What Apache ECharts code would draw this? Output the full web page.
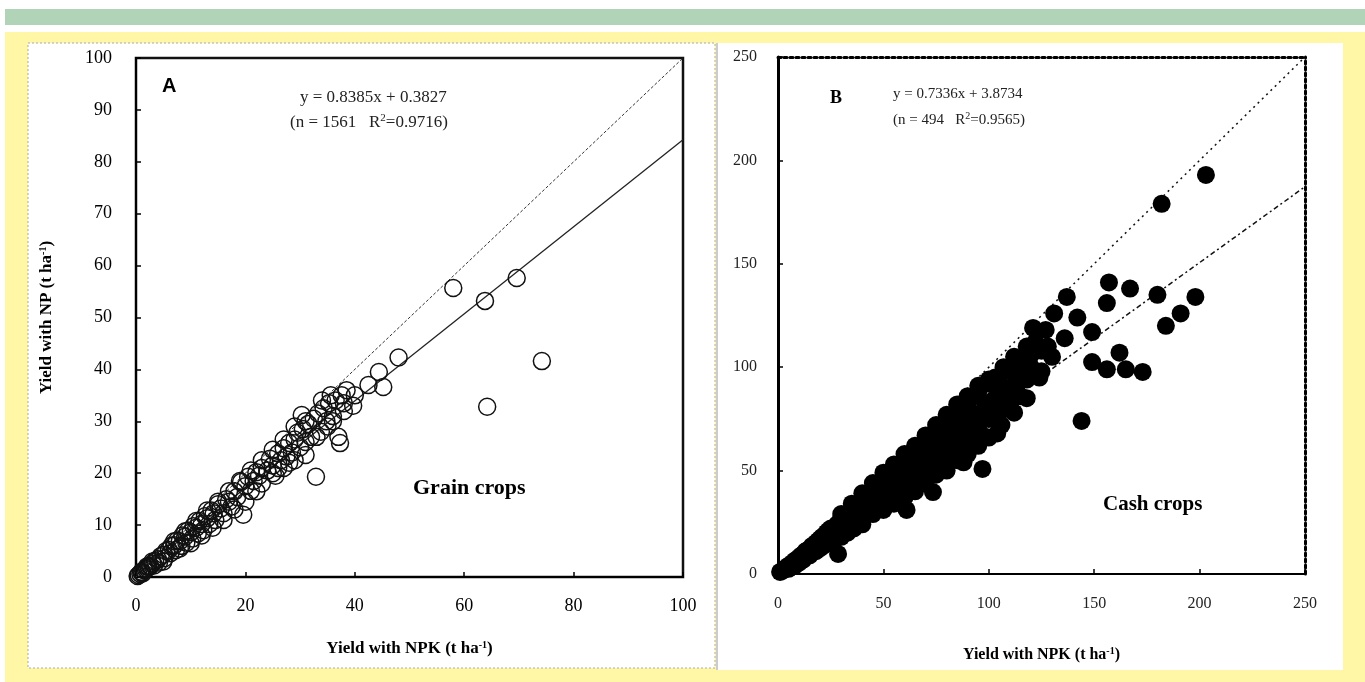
<!DOCTYPE html>
<html><head><meta charset="utf-8">
<script src="https://cdn.jsdelivr.net/npm/echarts@6/dist/echarts.min.js"></script>
<style>html,body{margin:0;padding:0;background:#fff;}#c{width:1365px;height:682px;}</style>
</head><body><div id="c"></div>
<script>
// ---- data ----
const ticksA = [0, 20, 40, 60, 80, 100];
const ticksB = [0, 50, 100, 150, 200, 250];
const grainPoints = [
[0.3,0.2],[0.5,0.4],[0.8,0.6],[1,0.9],[1.2,0.7],[1.5,1.3],[1.8,1.5],[2,1.7],[2.3,2],[2.6,2.1],[3,2.6],[3.3,2.2],[3.5,3.1],[4,3.4],[4.2,2.8],[4.5,4],[5,4.3],[5.2,3.6],[5.5,5],[6,5.2],[6.3,4.6],[6.5,6],[7,6.1],[7.3,5.2],[7.5,7],[8,6.9],[8.3,6],[8.5,8],[9,7.8],[9.2,6.6],[9.5,8.9],[10,8.6],[10.3,7.4],[10.5,9.8],[11,9.5],[11.3,8.4],[11.6,10.8],[12,10.2],[12.3,9],[12.6,11.7],[13,11.3],[13.4,10.2],[13.8,12.8],[14.2,12.3],[14.5,11],[15,14],[15.5,13.2],[16,12.3],[16.5,15],[17,14.5],[17.5,13.6],[18,16.5],[18.5,15.4],[19.2,18.3],[19.6,12],[20,17.5],[20.5,19.3],[21,16.6],[21.5,18.5],[22,20.2],[22.5,19.5],[23,21],[24,20.5],[24.5,22.8],[25,21.5],[25.5,19.5],[26,23.8],[26.5,22.5],[27,24.8],[27.5,23.2],[28,25.8],[28.5,24],[29,26.5],[29.5,27.8],[30,25],[30.3,31.2],[30.5,28.5],[31,23.5],[31.5,29.5],[32,27],[32.5,30.5],[32.9,19.3],[33.3,31.5],[33.8,28],[34.3,32.5],[34.8,30],[35.3,33.5],[35.6,35],[36,31],[36.5,34],[37,27],[37.3,25.8],[37.6,35],[38,33.5],[39.7,33],[40,35],[42.5,37],[44.4,39.5],[45.2,36.6],[48,42.3],[58,55.7],[63.8,53.2],[64.2,32.8],[69.6,57.6],[74.2,41.6],
[5,3],[8,5.5],[10,6.5],[12,8],[14,9.5],[16,11],[18,13],[20,14.5],[22,16.5],[23,18],[25,20],[27,21],[29,22.5],[31,26],[33,27],[35,29],[36,30],[38,32],[34,34],[31,30],[29,29],[27,26.5],[25,24.5],[23,22.5],[21,20.5],[19,18.5],[17,16.5],[15,14.5],[13,12.8],[11,10.8],[9,8.8],[7,6.9],[3,3],[2,2],[1,1],[38.5,36],[26,21],[28,22]
];
const cashPoints = [
[1,1],[2,1.5],[3,2.5],[4,3],[5,4],[6,4.5],[7,5.5],[8,6.5],[9,7],[10,8],[11,9],[12,9.5],[13,11],[14,11.5],[15,12],[16,13.5],[17,14],[18,15],[19,16],[20,17],[21,18],[22,18.5],[23,20],[24,21],[25,22],
[5,2.5],[8,4],[12,7],[18,11],[22,14],[26,15],[30,18],[33,20],[36,22],[40,24],
[10,5.5],[15,9],[20,12.5],[25,17],[28.5,9.7],[28,24],[30,21],[30,27],[32,25],[33,29],[35,30],[35,24],[37,33],[38,28],[40,28],[40,36],[42,34],[43,38],[45,40],[45,32],[47,37],[48,43],[50,45],[50,35],[52,40],[53,47],[55,48],[55,38],[57,43],[58,51],[60,53],[60,42],[61,31],[62,48],[63,56],[65,57],[65,45],[67,52],[68,60],[70,62],[70,50],[72,56],[73,65],[73.5,39.6],[75,67],[75,53],[77,60],[78,70],[80,72],[80,58],[82,64],[83,75],[85,76],[85,62],[87,70],[88,54],[88,80],[90,82],[90,66],[92,74],[93,86],[95,88],[95,70],[97,50.8],[97,67],[98,80],[100,92],[100,75],[102,84],[105,92],[105,78],[108,88],[110,98],[110,82],[113,90],[115,102],[115,86],[118,94],[120,106],[121,119],[125,98],[127,118],[131,126],[136,114],[137,134],[142,124],[144,74],[149,117],[149,102.5],[156,131],[156,99],[157,141],[162,107],[165,99],[167,138],[173,97.7],[180,135],[182,179],[184,120],[191,126],[198,134],[203,193],
[30,29],[35,34],[40,39],[45,44],[50,49],[55,53],[60,58],[65,62],[70,67],[75,72],[80,77],[85,82],[90,86],[95,91],[100,94],
[35,28],[45,36],[55,44],[60,47],[65,51],[75,60],[80,65],[85,69],[90,73],[95,77],[100,82],[105,86],[110,90],[115,95],[120,100],
[35,22],[40,26],[45,29],[50,31],[55,34],[60,37],[65,40],[70,44],[75,48],[80,50],[85,55],[90,58],[95,62],[100,66],
[103,95],[107,100],[112,105],[118,110],[122,112],[125,108],[128,110],[130,105],[118,85],[112,78],[106,72],[104,68],[124,95]
];
const lineA11 = [[0,0],[100,100]];
const lineAFit = [[0,0.3827],[100,84.2327]];
const lineB11 = [[0,0],[250,250]];
const lineBFit = [[0,3.8734],[250,187.2734]];

const serif = '"Liberation Serif","DejaVu Serif",serif';
const chart = echarts.init(document.getElementById('c'), null, {renderer:'canvas'});
const supRich = {sup:{fontSize:10, verticalAlign:'top', padding:[0,0,8,0], fontFamily:serif, fontWeight:'bold', color:'#000'}};

function ax(gi, min, max, interval, pos, opts) {
  return Object.assign({
    type:'value', gridIndex:gi, min:min, max:max, interval:interval, position:pos,
    axisLine:{show:true, onZero:false, lineStyle:{color:'#000', width:2}},
    axisTick:{show:true, inside:true, length:5, lineStyle:{color:'#000', width:1.5}},
    splitLine:{show:false},
    axisLabel:{color:'#000', fontFamily:serif, fontSize:18, margin:20}
  }, opts || {});
}

const option = {
  animation:false,
  backgroundColor:'#fff',
  graphic:[
    {type:'rect', shape:{x:5,y:9,width:1360,height:16}, style:{fill:'#B1D3B8'}, z:-10},
    {type:'rect', shape:{x:5,y:32,width:1360,height:650}, style:{fill:'#FFF6A6'}, z:-10},
    {type:'rect', shape:{x:28,y:43,width:687,height:625}, style:{fill:'#fff', stroke:'#aaa', lineWidth:1, lineDash:[2,2]}, z:-9},
    {type:'rect', shape:{x:716,y:43,width:627,height:627}, style:{fill:'#fff'}, z:-9},
    {type:'rect', shape:{x:716,y:43,width:2,height:627}, style:{fill:'#ccc'}, z:-8},
    {type:'text', left:162, top:76, style:{text:'A', font:'bold 20px "Liberation Sans", Arial, sans-serif', fill:'#000'}},
    {type:'text', left:300, top:89, style:{text:'y = 0.8385x + 0.3827', font:'17px '+serif, fill:'#222'}},
    {type:'text', left:290, top:113, style:{text:'(n = 1561   R{s|2}=0.9716)', font:'17px '+serif, fill:'#222',
       rich:{s:{fontSize:11, verticalAlign:'top', padding:[0,0,9,0], fontFamily:serif, fill:'#222'}}}},
    {type:'text', left:413, top:477, style:{text:'Grain crops', font:'bold 22px '+serif, fill:'#000'}},
    {type:'text', left:830, top:89, style:{text:'B', font:'bold 18px '+serif, fill:'#000'}},
    {type:'text', left:893, top:87, style:{text:'y = 0.7336x + 3.8734', font:'15px '+serif, fill:'#222'}},
    {type:'text', left:893, top:111, style:{text:'(n = 494   R{s|2}=0.9565)', font:'15px '+serif, fill:'#222',
       rich:{s:{fontSize:10, verticalAlign:'top', padding:[0,0,8,0], fontFamily:serif, fill:'#222'}}}},
    {type:'text', left:1103, top:494, style:{text:'Cash crops', font:'bold 21px '+serif, fill:'#000'}}
  ],
  grid:[
    {left:136, top:58, width:547, height:519, show:true, borderColor:'#111', borderWidth:2.5, backgroundColor:'transparent'},
    {left:778, top:57, width:527, height:517, show:false}
  ],
  xAxis:[
    ax(0,0,100,20,'bottom',{name:'Yield with NPK (t ha{sup|-1})', nameLocation:'middle', nameGap:63,
       nameTextStyle:{fontFamily:serif, fontSize:17, fontWeight:'bold', color:'#000', rich:supRich}}),
    ax(1,0,250,50,'bottom',{name:'Yield with NPK (t ha{sup|-1})', nameLocation:'middle', nameGap:72,
       axisLabel:{color:'#222', fontFamily:serif, fontSize:16, margin:22},
       nameTextStyle:{fontFamily:serif, fontSize:16, fontWeight:'bold', color:'#000', rich:supRich}}),
    ax(1,0,250,50,'top',{axisLine:{show:true,onZero:false,lineStyle:{color:'#000',width:3,type:[3,3]}}, axisTick:{show:false}, axisLabel:{show:false}})
  ],
  yAxis:[
    ax(0,0,100,10,'left',{name:'Yield with NP (t ha{sup|-1})', nameLocation:'middle', nameGap:80, nameRotate:90,
       axisLabel:{color:'#000', fontFamily:serif, fontSize:18, margin:24},
       nameTextStyle:{fontFamily:serif, fontSize:17, fontWeight:'bold', color:'#000', rich:supRich}}),
    ax(1,0,250,50,'left',{axisLine:{show:true,onZero:false,lineStyle:{color:'#000',width:3}},
       axisLabel:{color:'#222', fontFamily:serif, fontSize:16, margin:21}}),
    ax(1,0,250,50,'right',{axisLine:{show:true,onZero:false,lineStyle:{color:'#000',width:3,type:[3,3]}}, axisTick:{show:false}, axisLabel:{show:false}})
  ],
  series:[
    {type:'line', xAxisIndex:0, yAxisIndex:0, data:lineA11, symbol:'none', lineStyle:{color:'#333', width:1, type:[3,2]}, z:1},
    {type:'line', xAxisIndex:0, yAxisIndex:0, data:lineAFit, symbol:'none', lineStyle:{color:'#222', width:1.3}, z:1},
    {type:'scatter', xAxisIndex:0, yAxisIndex:0, data:grainPoints, symbol:'circle', symbolSize:17,
      itemStyle:{color:'rgba(255,255,255,0)', borderColor:'#111', borderWidth:1.5, opacity:1}, z:2},
    {type:'line', xAxisIndex:1, yAxisIndex:1, data:lineB11, symbol:'none', lineStyle:{color:'#111', width:1.5, type:[2,4]}, z:1},
    {type:'line', xAxisIndex:1, yAxisIndex:1, data:lineBFit, symbol:'none', lineStyle:{color:'#111', width:1.5, type:[5,3,2,3]}, z:1},
    {type:'scatter', xAxisIndex:1, yAxisIndex:1, data:cashPoints, symbol:'circle', symbolSize:18,
      itemStyle:{color:'#000', opacity:1}, z:2}
  ]
};
chart.setOption(option);
</script></body></html>
